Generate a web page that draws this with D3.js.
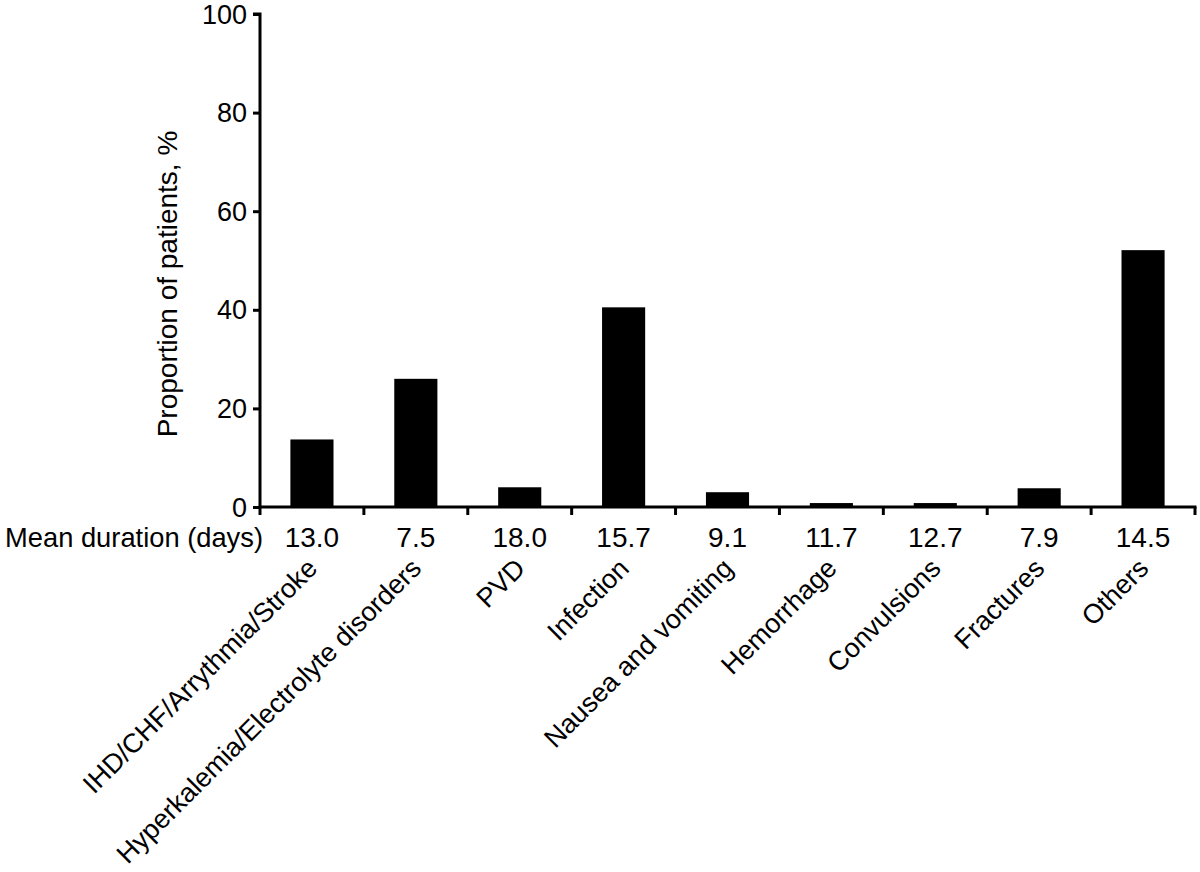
<!DOCTYPE html>
<html>
<head>
<meta charset="utf-8">
<script src="https://cdn.jsdelivr.net/npm/d3@7"></script>
<style>
  html, body { margin: 0; padding: 0; background: #fff; }
  text { font-family: "Liberation Sans", Arial, sans-serif; fill: #000; }
</style>
</head>
<body>
<svg id="chart" width="1200" height="872"></svg>
<script>
// ---- data ----
const categories = ["IHD/CHF/Arrythmia/Stroke", "Hyperkalemia/Electrolyte disorders", "PVD", "Infection",
  "Nausea and vomiting", "Hemorrhage", "Convulsions", "Fractures", "Others"];
const proportions = [13.7, 26.0, 4.0, 40.5, 3.0, 0.8, 0.8, 3.8, 52.1];
const meanDurations = ["13.0", "7.5", "18.0", "15.7", "9.1", "11.7", "12.7", "7.9", "14.5"];
const yTicks = [0, 20, 40, 60, 80, 100];
const yLabel = "Proportion of patients, %";
const durationLabel = "Mean duration (days)";

// ---- layout ----
const svg = d3.select("#chart");
const x0 = 260, x1 = 1195, yBase = 507, yTop = 14;
const fs = 28;

const x = d3.scaleBand().domain(categories).range([x0, x1]).padding(0);
const y = d3.scaleLinear().domain([0, 100]).range([yBase, yTop]);
const barW = x.bandwidth() * 0.415;

// bars
svg.append("g").selectAll("rect").data(categories).join("rect")
  .attr("x", (d) => x(d) + x.bandwidth() / 2 - barW / 2)
  .attr("y", (d, i) => y(proportions[i]))
  .attr("width", barW)
  .attr("height", (d, i) => y(0) - y(proportions[i]))
  .attr("fill", "#000");

// y axis
const yAxis = svg.append("g").attr("transform", `translate(${x0},0)`)
  .call(d3.axisLeft(y).tickValues(yTicks).tickSize(7).tickPadding(6).tickFormat(d3.format("d")));
yAxis.select(".domain").attr("d", `M-7,${y(100)}H0V${y(0)}`).attr("stroke", "#000").attr("stroke-width", 3);
yAxis.selectAll(".tick line").attr("stroke", "#000").attr("stroke-width", 3);
yAxis.selectAll(".tick text").attr("font-size", 27).attr("dy", "0.34em")
  .attr("font-family", "Liberation Sans, Arial, sans-serif").attr("fill", "#000");

// x axis: line with ticks at band boundaries
const bounds = categories.map((c) => x(c)).concat([x1]);
const xg = svg.append("g");
xg.append("line").attr("x1", x0 - 1.5).attr("x2", x1 + 1.5).attr("y1", yBase).attr("y2", yBase)
  .attr("stroke", "#000").attr("stroke-width", 3);
xg.selectAll("line.tk").data(bounds).join("line").attr("class", "tk")
  .attr("x1", (d) => d).attr("x2", (d) => d).attr("y1", yBase).attr("y2", yBase + 8)
  .attr("stroke", "#000").attr("stroke-width", 3);

// mean duration row
svg.append("text").attr("x", 263).attr("y", 547).attr("text-anchor", "end")
  .attr("font-size", 27.3).text(durationLabel);
svg.append("g").selectAll("text").data(categories).join("text")
  .attr("x", (d) => x(d) + x.bandwidth() / 2)
  .attr("y", 547).attr("text-anchor", "middle").attr("font-size", fs)
  .text((d, i) => meanDurations[i]);

// rotated category labels
svg.append("g").selectAll("text").data(categories).join("text")
  .attr("transform", (d) => `translate(${x(d) + x.bandwidth() / 2 + 7},570) rotate(-45)`)
  .attr("text-anchor", "end").attr("font-size", 27)
  .text((d) => d);

// y label
svg.append("text").attr("transform", `translate(177,284) rotate(-90)`)
  .attr("text-anchor", "middle").attr("font-size", 28).text(yLabel);
</script>
</body>
</html>
